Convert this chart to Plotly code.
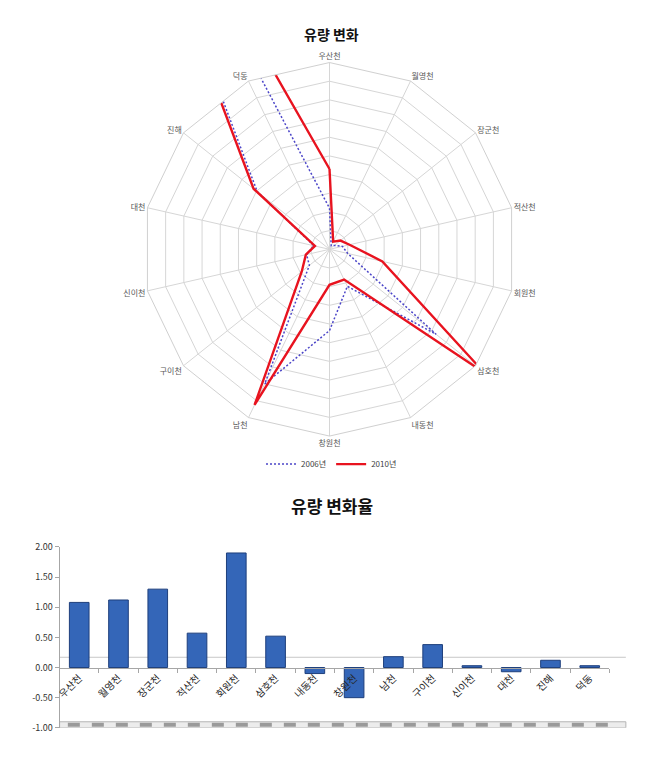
import plotly.graph_objects as go

# ---------------- data ----------------
categories = ["우산천", "월영천", "장군천", "적산천", "회원천", "삼호천", "내동천",
              "창원천", "남천", "구이천", "신이천", "대천", "진해", "덕동"]
flow_2006 = [2.2, 0.21, 0.33, 0.71, 1.0, 7.3, 2.2, 4.35, 8.0, 1.38, 1.26, 0.86, 4.95, 28.5]
flow_2010 = [4.3, 0.45, 0.75, 1.1, 2.9, 10.6, 1.8, 1.9, 9.25, 1.9, 1.3, 0.8, 5.2, 30.0]
change_rate = [1.08, 1.12, 1.30, 0.57, 1.90, 0.52, -0.10, -0.50, 0.18, 0.38, 0.03, -0.07, 0.12, 0.03]
series_names = ["2006년", "2010년"]
y_tick_vals = [-1.0, -0.5, 0.0, 0.5, 1.0, 1.5, 2.0]
y_tick_labels = ["-1.00", "-0.50", "0.00", "0.50", "1.00", "1.50", "2.00"]
titles = ["유량 변화", "유량 변화율"]

FONT = "Noto Sans CJK KR"
W, H = 658, 763

def px_x(p):
    return p / W

def px_y(p):
    return 1 - p / H

theta_closed = categories + [categories[0]]

fig = go.Figure()

fig.add_trace(go.Scatterpolar(
    r=flow_2006 + [flow_2006[0]], theta=theta_closed, mode="lines",
    name=series_names[0],
    line=dict(color="#4b45c8", width=1.5, dash="2px,2px"),
))
fig.add_trace(go.Scatterpolar(
    r=flow_2010 + [flow_2010[0]], theta=theta_closed, mode="lines",
    name=series_names[1],
    line=dict(color="#e8131f", width=2.4),
))

fig.add_trace(go.Bar(
    x=categories, y=change_rate, xaxis="x", yaxis="y",
    marker=dict(color="#3466b8", line=dict(color="#1e3f7c", width=1)),
    showlegend=False,
))

cx, cy, rad = 327, 246.5, 190
fig.update_layout(
    width=W, height=H,
    margin=dict(l=0, r=0, t=0, b=0),
    paper_bgcolor="white", plot_bgcolor="white",
    font=dict(family=FONT, color="#404040"),
    polar=dict(
        domain=dict(x=[px_x(cx - rad), px_x(cx + rad)], y=[px_y(cy + rad), px_y(cy - rad)]),
        gridshape="linear",
        bgcolor="white",
        radialaxis=dict(range=[0, 10], dtick=1, showticklabels=False, ticks="",
                        showline=False, gridcolor="#d6d6d6", gridwidth=1),
        angularaxis=dict(rotation=90, direction="clockwise", type="category",
                         categoryarray=categories,
                         showline=True, linecolor="#d0d0d0", linewidth=1,
                         gridcolor="#d6d6d6", ticks="",
                         tickfont=dict(size=8, color="#595959", family=FONT)),
    ),
    legend=dict(orientation="h", x=0.5, xanchor="center", y=px_y(465), yanchor="middle",
                font=dict(size=8, color="#404040", family=FONT), itemwidth=30,
                bgcolor="rgba(0,0,0,0)"),
    xaxis=dict(domain=[px_x(55), px_x(609)], anchor="free", position=px_y(672),
               showline=True, linecolor="#a6a6a6", ticks="outside", tickson="boundaries",
               ticklen=4, tickcolor="#a6a6a6", tickangle=-45, showgrid=False,
               tickfont=dict(size=10, color="#262626", family=FONT)),
    yaxis=dict(domain=[px_y(733.3), px_y(549.3)], anchor="x", range=[-1, 2],
               tickvals=y_tick_vals, ticktext=y_tick_labels,
               showgrid=False, zeroline=False, showline=True, linecolor="#a6a6a6",
               ticks="outside", ticklen=4, tickcolor="#a6a6a6",
               tickfont=dict(size=9, color="#333333", family=FONT)),
    bargap=0.5,
    annotations=[
        dict(text="<b>" + titles[0] + "</b>", x=0.5, y=px_y(27), xref="paper", yref="paper",
             yanchor="middle", showarrow=False, font=dict(size=14, color="#111111", family=FONT)),
        dict(text="<b>" + titles[1] + "</b>", x=0.5, y=px_y(507), xref="paper", yref="paper",
             yanchor="middle", showarrow=False, font=dict(size=17, color="#111111", family=FONT)),
    ],
    shapes=[
        dict(type="line", xref="x domain", yref="y", x0=0.0, x1=1.03, y0=0.17, y1=0.17,
             line=dict(color="#c8c8c8", width=1), layer="below"),
        dict(type="rect", xref="x domain", yref="y", x0=0.0, x1=1.03, y0=-1.0, y1=-0.9,
             fillcolor="#ececec", line=dict(color="#b5b5b5", width=1), layer="below"),
        dict(type="line", xref="x domain", yref="y", x0=0.015, x1=1.0, y0=-0.95, y1=-0.95,
             line=dict(color="#9a9a9a", width=4, dash="dash"), layer="below"),
    ],
)

fig.write_html("out.html")
